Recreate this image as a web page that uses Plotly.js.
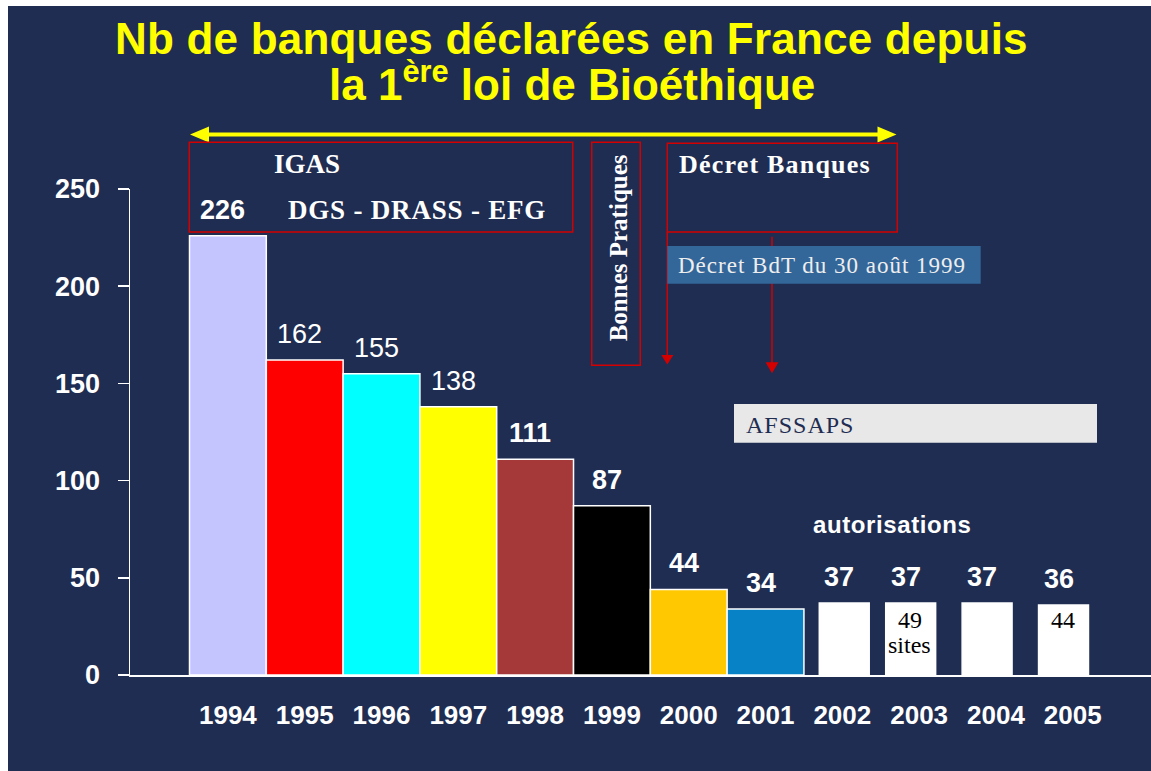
<!DOCTYPE html>
<html><head><meta charset="utf-8">
<script src="https://cdn.plot.ly/plotly-3.0.1.min.js"></script>
<style>
html,body{margin:0;padding:0;background:#1f2d52;overflow:hidden;width:1151px;height:771px;}
#chart{position:absolute;left:8px;top:6px;width:1143px;height:765px;}
#topstrip{position:absolute;left:0;top:0;width:1151px;height:6px;background:#ffffff;}
#leftstrip{position:absolute;left:0;top:0;width:8px;height:771px;background:#ffffff;}
</style>
</head><body><div id="topstrip"></div><div id="leftstrip"></div><div id="chart"></div>
<script>
// ---- data ----
const years = ['1994','1995','1996','1997','1998','1999','2000','2001','2002','2003','2004','2005'];
const banks = [226,162,155,138,111,87,44,34,37,37,37,36];
const barLabels = ['226','162','155','138','111','87','44','34','37','37','37','36'];
const siteYears = ['2003','2005'];
const siteCounts = ['49','44'];
const yTicks = [0,50,100,150,200,250];

// ---- styles ----
const BG = '#1f2d52';
const SANS = 'Liberation Sans, Arial, sans-serif';
const SERIF = 'Liberation Serif, Times New Roman, serif';
const barColors = ['#c4c4ff','#ff0000','#00ffff','#ffff00','#a53838','#000000','#ffc800','#0782c6','#ffffff','#ffffff','#ffffff','#ffffff'];
const barWidths = years.map((_,i)=> i<8 ? 1.0 : 0.65);
const barOffsets = [-0.5,-0.5,-0.5,-0.5,-0.5,-0.5,-0.5,-0.5,-0.30,-0.435,-0.44,-0.445];
const regularLabels = [1,2,3];

// ---- geometry helpers (image pixel -> paper) ----
const OX=8, OY=6, W=1143, H=765, ML=122, MR=0, MT=183, MB=96;
const PW=W-ML-MR, PH=H-MT-MB;
const px = x => (x-OX-ML)/PW;
const py = y => (H-MB-(y-OY))/PH;

const annots = [];
const spacing = [];
function txt(text, x, y, o){
  o = o || {};
  if (o.ls) spacing.push([annots.length, o.ls]);
  annots.push({
    text: text, x: px(x), y: py(y), xref:'paper', yref:'paper', showarrow:false,
    xanchor: o.xa || 'center', yanchor: o.ya || 'middle', align: o.xa || 'center',
    textangle: o.angle || 0,
    font: {family: o.fam || SANS, size: o.size || 20, color: o.color || '#ffffff', weight: o.bold ? 'bold' : 'normal'}
  });
}

// titles
txt('Nb de banques déclarées en France depuis', 571.5, 38, {size:44, bold:true, color:'#ffff00', ls:'0.2px'});
txt('la 1<sup>ère</sup> loi de Bioéthique', 572, 110.5, {size:44, bold:true, color:'#ffff00', ya:'bottom'});
// boxes text
txt('IGAS', 306.7, 164.2, {fam:SERIF, size:27, bold:true});
txt('DGS - DRASS - EFG', 285.7, 210, {fam:SERIF, size:27, bold:true, xa:'left', ls:'0.8px'});
txt('Bonnes Pratiques', 618, 248.3, {fam:SERIF, size:25, bold:true, angle:-90});
txt('Décret Banques', 677.3, 164.7, {fam:SERIF, size:26, bold:true, xa:'left', ls:'1.2px'});
txt('Décret BdT du 30 août 1999', 676.3, 265.2, {fam:SERIF, size:23, color:'#eeeeee', xa:'left', ls:'1px'});
txt('AFSSAPS', 744, 424.5, {fam:SERIF, size:24, color:BG, xa:'left', ls:'1px'});
txt('autorisations', 810.7, 524, {size:24, bold:true, xa:'left', ls:'0.6px'});

// bar value labels
years.forEach((yr,i)=>{
  annots.push({
    text: barLabels[i], x: i + barOffsets[i] + barWidths[i]/2, y: banks[i],
    xref:'x', yref:'y', showarrow:false, xanchor:'center', yanchor:'bottom',
    xshift:-5, yshift:9,
    font:{family:SANS, size:27, color:'#ffffff', weight: regularLabels.includes(i) ? 'normal' : 'bold'}
  });
});
// site counts inside white bars
siteYears.forEach((yr,k)=>{
  const i = years.indexOf(yr);
  annots.push({
    text: siteCounts[k], x: i + barOffsets[i] + barWidths[i]/2, y: py(619.7),
    xref:'x', yref:'paper', showarrow:false, xanchor:'center', yanchor:'middle', xshift:-1,
    font:{family:SERIF, size:24, color:'#000000'}
  });
  if (yr === '2003') {
    annots.push({
      text: 'sites', x: i + barOffsets[i] + barWidths[i]/2, y: py(645.2),
      xref:'x', yref:'paper', showarrow:false, xanchor:'center', yanchor:'middle', xshift:-1,
      font:{family:SERIF, size:24, color:'#000000'}
    });
  }
});

// shapes
const shapes = [];
function rect(x0,y0,x1,y1,line,fill){
  shapes.push({type:'rect', xref:'paper', yref:'paper', x0:px(x0), x1:px(x1), y0:py(y0), y1:py(y1),
    line: line || {width:0}, fillcolor: fill || 'rgba(0,0,0,0)'});
}
function seg(x0,y0,x1,y1,color,width){
  shapes.push({type:'line', xref:'paper', yref:'paper', x0:px(x0), x1:px(x1), y0:py(y0), y1:py(y1),
    line:{color:color, width:width}});
}
function tri(pts,color){
  const d = 'M' + pts.map(p=>px(p[0])+','+py(p[1])).join('L') + 'Z';
  shapes.push({type:'path', xref:'paper', yref:'paper', path:d, fillcolor:color, line:{width:0}});
}
const RED = '#d40000';
// yellow double arrow
seg(205,134.5,881,134.5,'#ffff00',4);
tri([[190,134.5],[209,126.5],[209,142.5]],'#ffff00');
tri([[896.5,134.5],[877.5,126.5],[877.5,142.5]],'#ffff00');
// red boxes
rect(189.3,142.3,572.7,232,{color:RED,width:1.5});
rect(591.7,142.3,640.3,365.3,{color:RED,width:1.5});
rect(667.3,143.3,897.3,232,{color:RED,width:1.5});
// red arrows
seg(667.3,232,667.3,357,RED,1.5);
tri([[667.3,364.5],[661.3,355],[673.3,355]],RED);
seg(772,236.7,772,364,RED,1.5);
tri([[772,373.3],[765.5,362.3],[778.5,362.3]],RED);
// blue and grey boxes
rect(667.3,246,980.7,283.7,null,'#336699');
rect(734,404,1097,442.7,null,'#e8e8e8');

// letter spacing css
const st = document.createElement('style');
st.textContent = spacing.map(s=>`.annotation[data-index="${s[0]}"] text{letter-spacing:${s[1]};}`).join('\n');
document.head.appendChild(st);

const trace = {
  type:'bar', x: years, y: banks,
  width: barWidths, offset: barOffsets,
  marker:{color: barColors, line:{color:'#ffffff', width:1.5}},
  hoverinfo:'skip'
};

const layout = {
  width:W, height:H,
  margin:{l:ML, r:MR, t:MT, b:MB, pad:0},
  paper_bgcolor:BG, plot_bgcolor:BG,
  showlegend:false,
  xaxis:{
    type:'category', range:[-1.2747, 12.019], fixedrange:true,
    showline:true, linecolor:'#ffffff', linewidth:1.5, ticks:'', showgrid:false, zeroline:false,
    tickfont:{family:SANS, size:26, color:'#ffffff', weight:'bold'}, ticklabelstandoff:16
  },
  yaxis:{
    range:[0,250], tickvals:yTicks, fixedrange:true,
    showline:true, linecolor:'#ffffff', linewidth:1.5,
    ticks:'outside', ticklen:11, tickwidth:1.5, tickcolor:'#ffffff',
    showgrid:false, zeroline:false,
    tickfont:{family:SANS, size:27, color:'#ffffff', weight:'bold'}, ticklabelstandoff:12
  },
  shapes:shapes,
  annotations:annots
};

Plotly.newPlot('chart',[trace],layout,{staticPlot:true, displayModeBar:false});
</script>
</body></html>
